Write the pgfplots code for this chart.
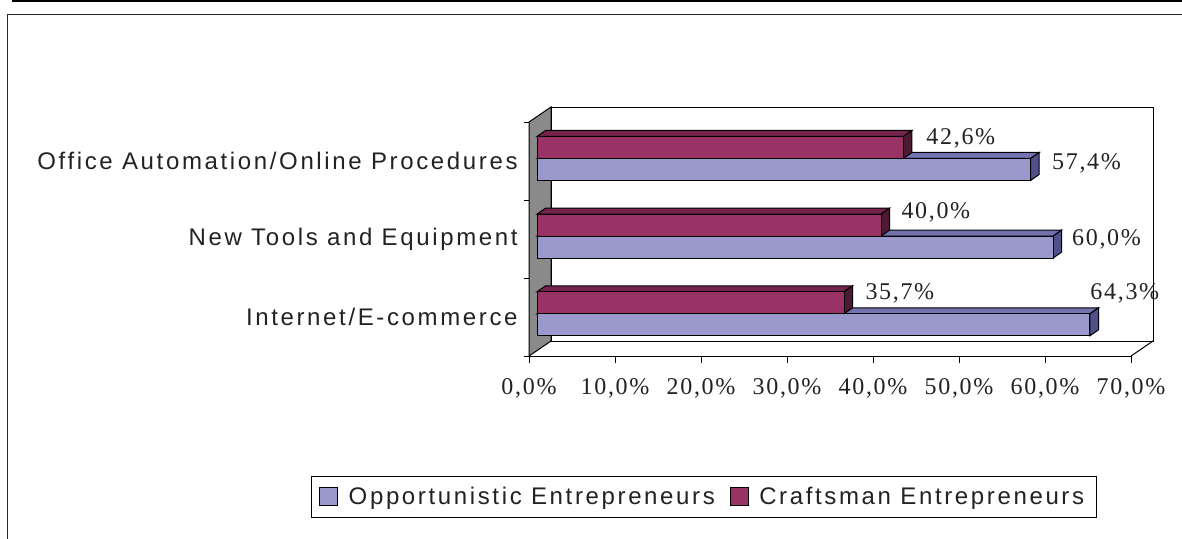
\documentclass[border=0pt]{standalone}
\usepackage{pgfplots}
\pgfplotsset{compat=1.18}
\usepackage{pgfplotstable}
\usepackage{fontspec}
\setmainfont{Liberation Serif}
\newfontfamily\arialls{Liberation Sans}[LetterSpace=11]
\newfontfamily\timesls{Liberation Serif}[LetterSpace=7]
\definecolor{oppfront}{HTML}{9999CC}
\definecolor{opptop}{HTML}{7272B0}
\definecolor{oppside}{HTML}{50508A}
\definecolor{crfront}{HTML}{993366}
\definecolor{crtop}{HTML}{74244C}
\definecolor{crside}{HTML}{4C1A33}
\definecolor{wallgray}{HTML}{8A8A8A}
\definecolor{txt}{HTML}{222222}

% cat = category position (Internet bottom), opp / craft = values in %
% olx,oly,clx,cly = label offsets (pt) for the two series
\pgfplotstableread{
cat opp craft olx oly clx cly
0.5 64.3 35.7 0 10.3 10.5 10.2
1.5 60.0 40.0 9.35 -1.7 10 12.0
2.5 57.4 42.6 10.5 -2.7 11.3 10.1
}\data

\begin{document}
\begin{tikzpicture}
\useasboundingbox (0,0) rectangle (591pt,269pt);
\draw[line width=1pt] (6pt,268.4pt) -- (591pt,268.4pt);
\draw[line width=0.9pt, color=black!85] (3.75pt,-2pt) -- (3.75pt,261.75pt) -- (593pt,261.75pt);

% ---------- front plane: walls, ticks, labels ----------
\begin{axis}[
  at={(264.5pt,91pt)}, anchor=south west, scale only axis,
  width=301pt, height=117pt,
  xmin=0, xmax=70, ymin=0, ymax=3, clip=false,
  axis x line*=bottom, axis y line*=left,
  axis line style={line width=0.5pt, black},
  xtick={0,10,20,30,40,50,60,70},
  xticklabels={{0,0\%},{10,0\%},{20,0\%},{30,0\%},{40,0\%},{50,0\%},{60,0\%},{70,0\%}},
  ytick={0.5,1.5,2.5},
  yticklabels={Internet/E-commerce,New Tools and Equipment,Office Automation/Online Procedures},
  minor ytick={0,1,2,3},
  tick align=outside, major tick length=3.5pt, minor tick length=2.5pt,
  major y tick style={draw=none},
  tick style={line width=0.5pt, black},
  xticklabel style={font=\timesls\fontsize{12}{14}\selectfont, text=txt, inner sep=0pt, anchor=north, yshift=-7.6pt},
  yticklabel style={font=\arialls\fontsize{12}{14}\selectfont, text=txt, inner sep=0pt, anchor=east, xshift=-2pt},
]
\draw[fill=wallgray, draw=black, line width=0.5pt] (axis cs:0,0) -- (axis cs:0,3) -- (axis cs:2.558,3.1923) -- (axis cs:2.558,0.1923) -- cycle;
\draw[fill=white, draw=black, line width=0.5pt] (axis cs:2.558,0.1923) rectangle (axis cs:72.558,3.1923);
\draw[black, line width=0.5pt] (axis cs:70,0) -- (axis cs:72.558,0.1923);
\end{axis}

% ---------- bar plane ----------
\begin{axis}[
  at={(268.5pt,92.7pt)}, anchor=south west, scale only axis,
  width=301pt, height=116.5pt,
  xmin=0, xmax=70, ymin=0, ymax=3, clip=false, hide axis,
  bar width=0.283,
  legend columns=2,
  legend cell align=left,
  legend style={at={(0.277,-0.62)}, anchor=center, draw=black, line width=0.5pt,
    font=\arialls\fontsize{12}{14}\selectfont, text=txt,
    inner xsep=4pt, inner ysep=3pt,
    /tikz/every even column/.append style={column sep=5.5pt}},
]
% 3D faces of the Opportunistic bars
\pgfplotsinvokeforeach{0,1,2}{
  \pgfplotstablegetelem{#1}{cat}\of\data \let\catv\pgfplotsretval
  \pgfplotstablegetelem{#1}{opp}\of\data \let\vo\pgfplotsretval
  \pgfmathsetmacro{\yt}{\catv}
  \pgfmathsetmacro{\yb}{\catv-0.283}
  \pgfmathsetmacro{\ytt}{\catv+0.077}
  \pgfmathsetmacro{\ybt}{\catv-0.283+0.077}
  \pgfmathsetmacro{\xe}{\vo+1.0}
  \addplot[forget plot, fill=opptop, draw=black, line width=0.5pt] coordinates {(0,\yt) (\vo,\yt) (\xe,\ytt) (1,\ytt)} -- cycle;
  \addplot[forget plot, fill=oppside, draw=black, line width=0.5pt] coordinates {(\vo,\yb) (\vo,\yt) (\xe,\ytt) (\xe,\ybt)} -- cycle;
}
\addplot[xbar, bar shift=-0.1415, fill=oppfront, draw=black, line width=0.5pt,
  legend image code/.code={\draw[fill=oppfront,draw=black,line width=0.4pt] (0pt,-4pt) rectangle (9pt,4.8pt); \path[draw=none,fill=none] (0pt,-3.5pt) rectangle (12.5pt,-3.4pt);},
  visualization depends on={\thisrow{olx} \as \lx},
  visualization depends on={\thisrow{oly} \as \ly},
  nodes near coords={\pgfmathprintnumber[fixed,fixed zerofill,precision=1,use comma,assume math mode=true]{\pgfplotspointmeta}\%},
  nodes near coords style={anchor=west, inner sep=0pt, xshift=\lx pt, yshift=\ly pt, font=\timesls\fontsize{12}{14}\selectfont, text=txt},
] table[x=opp, y=cat]{\data};
\addlegendentry{Opportunistic Entrepreneurs}
% 3D faces of the Craftsman bars
\pgfplotsinvokeforeach{0,1,2}{
  \pgfplotstablegetelem{#1}{cat}\of\data \let\catv\pgfplotsretval
  \pgfplotstablegetelem{#1}{craft}\of\data \let\vo\pgfplotsretval
  \pgfmathsetmacro{\yt}{\catv+0.283}
  \pgfmathsetmacro{\yb}{\catv}
  \pgfmathsetmacro{\ytt}{\catv+0.283+0.077}
  \pgfmathsetmacro{\ybt}{\catv+0.077}
  \pgfmathsetmacro{\xe}{\vo+1.0}
  \addplot[forget plot, fill=crtop, draw=black, line width=0.5pt] coordinates {(0,\yt) (\vo,\yt) (\xe,\ytt) (1,\ytt)} -- cycle;
  \addplot[forget plot, fill=crside, draw=black, line width=0.5pt] coordinates {(\vo,\yb) (\vo,\yt) (\xe,\ytt) (\xe,\ybt)} -- cycle;
}
\addplot[xbar, bar shift=0.1415, fill=crfront, draw=black, line width=0.5pt,
  legend image code/.code={\draw[fill=crfront,draw=black,line width=0.4pt] (0pt,-4pt) rectangle (9pt,4.8pt); \path[draw=none,fill=none] (0pt,-3.5pt) rectangle (12.5pt,-3.4pt);},
  visualization depends on={\thisrow{clx} \as \lx},
  visualization depends on={\thisrow{cly} \as \ly},
  nodes near coords={\pgfmathprintnumber[fixed,fixed zerofill,precision=1,use comma,assume math mode=true]{\pgfplotspointmeta}\%},
  nodes near coords style={anchor=west, inner sep=0pt, xshift=\lx pt, yshift=\ly pt, font=\timesls\fontsize{12}{14}\selectfont, text=txt},
] table[x=craft, y=cat]{\data};
\addlegendentry{Craftsman Entrepreneurs}
\end{axis}
\end{tikzpicture}
\end{document}
